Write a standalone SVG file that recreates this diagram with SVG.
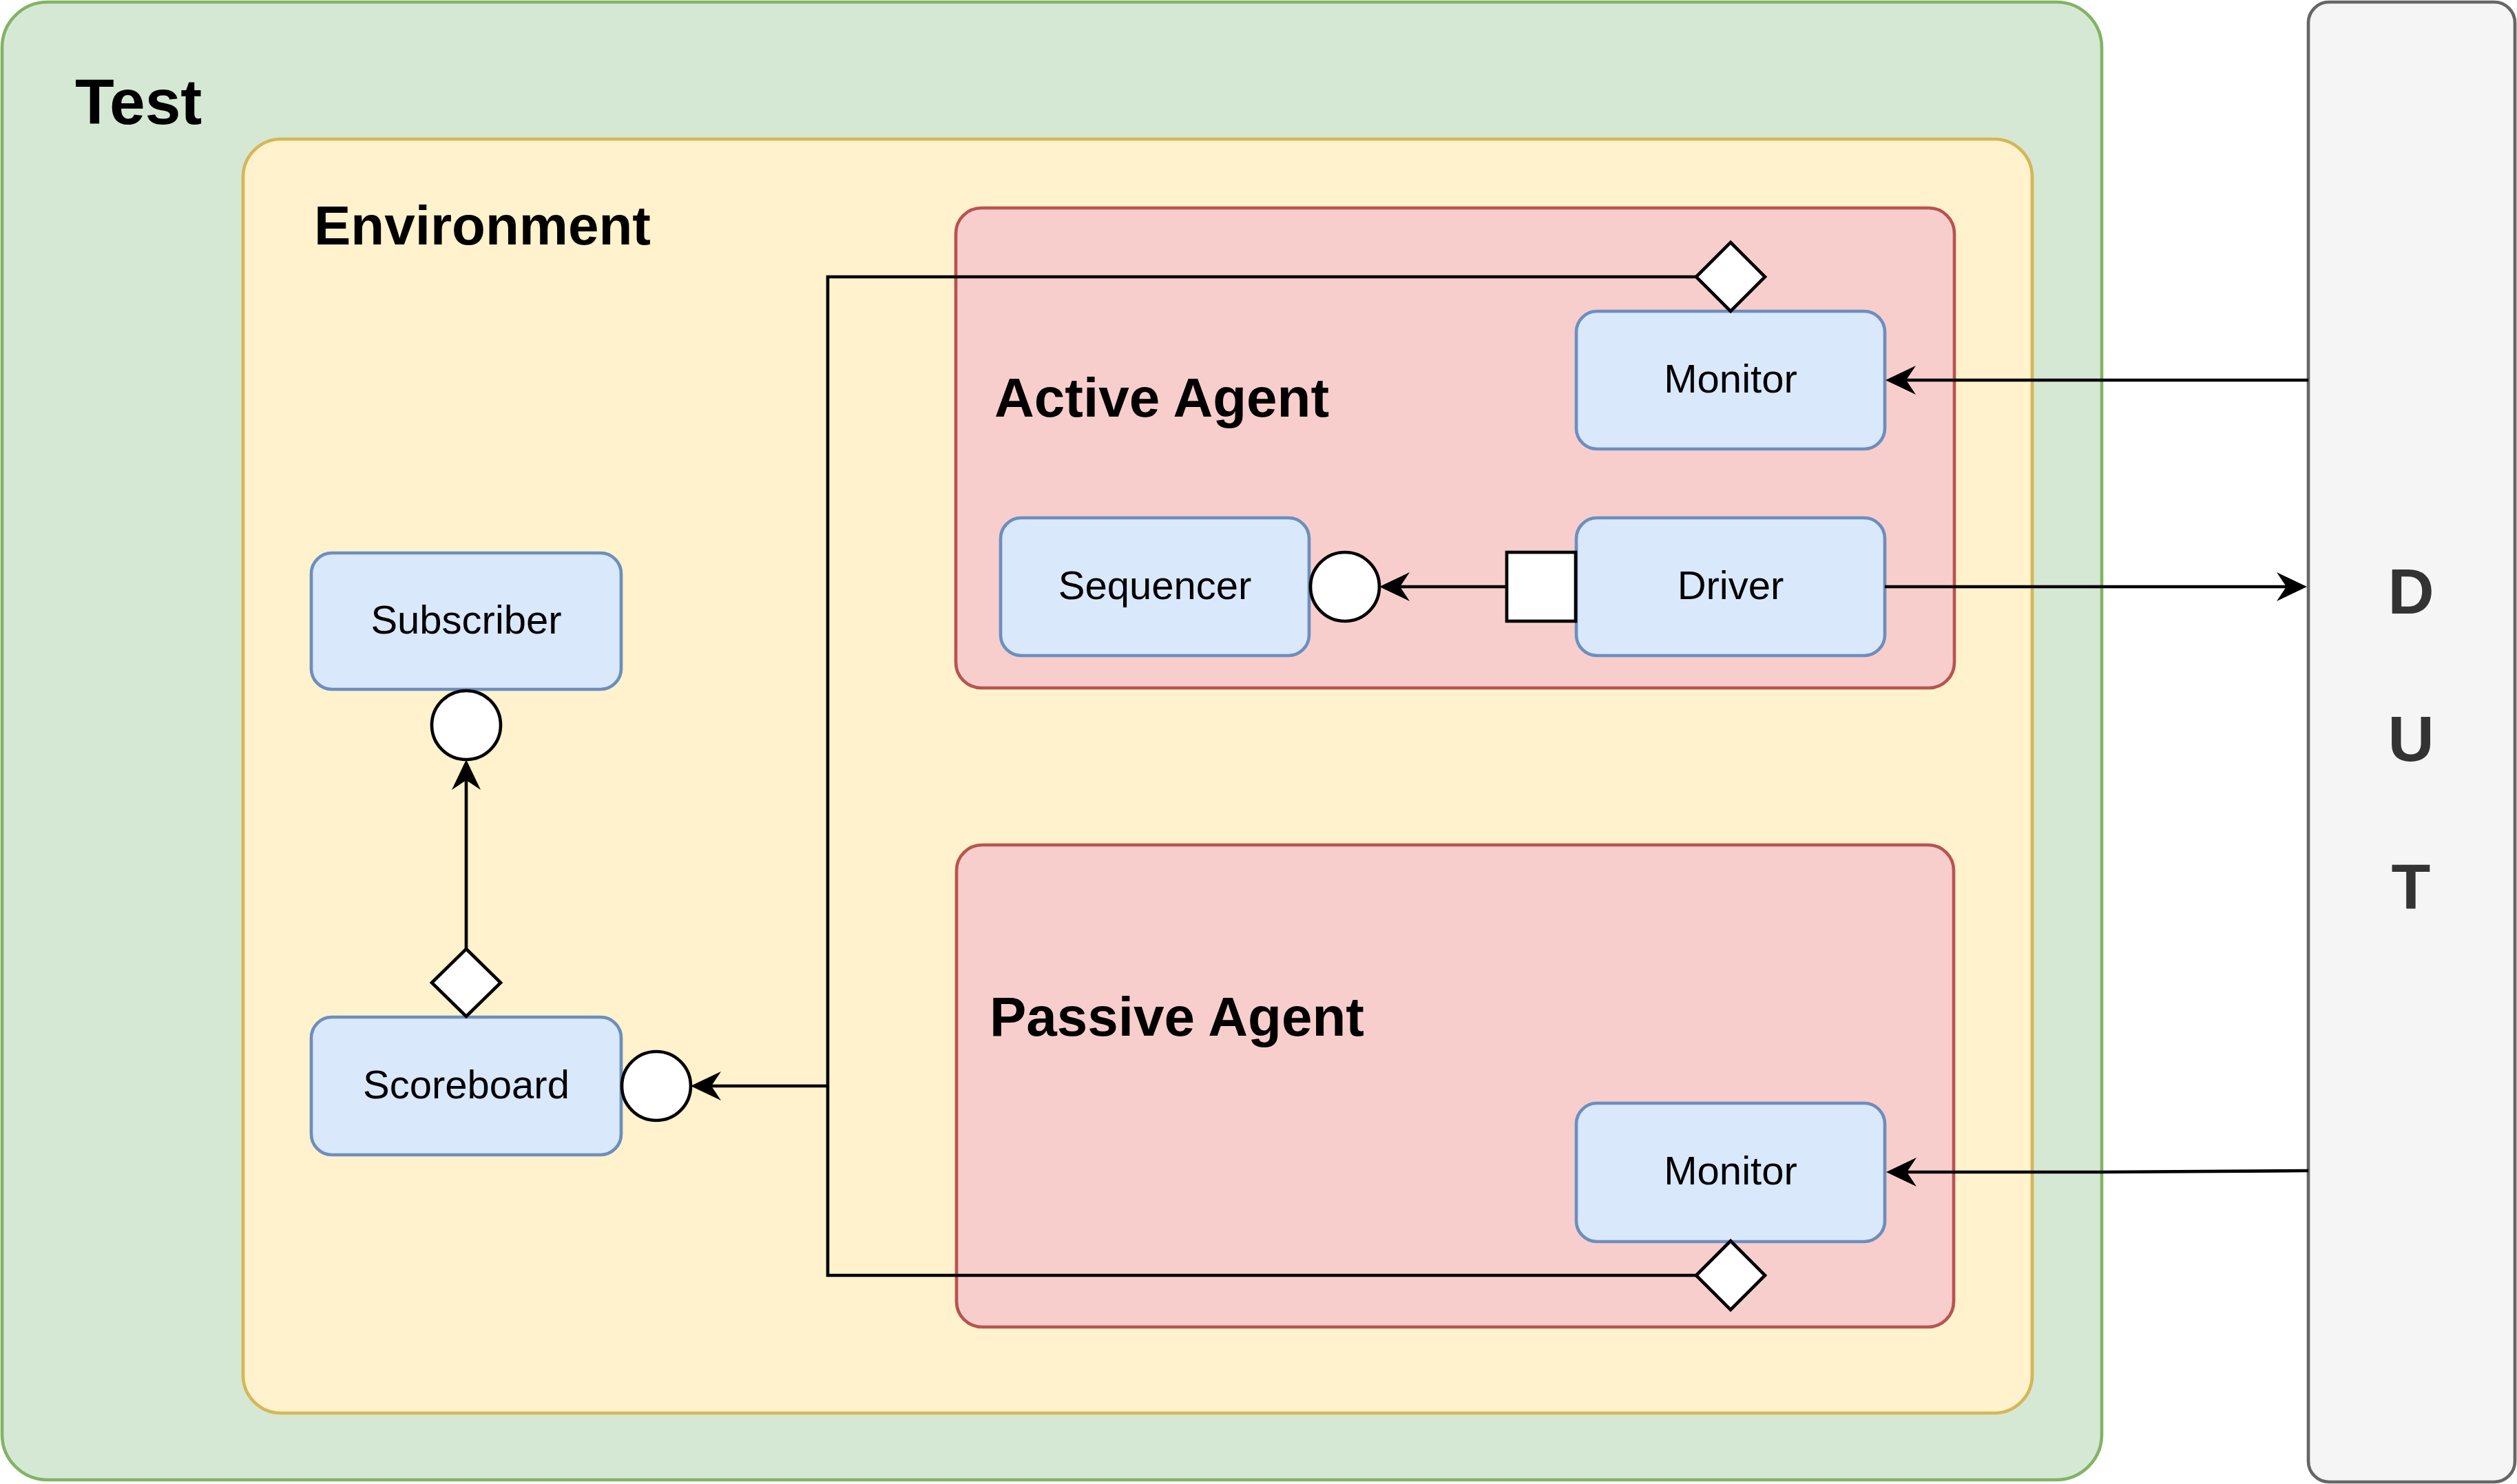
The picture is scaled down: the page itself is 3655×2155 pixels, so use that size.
<svg xmlns="http://www.w3.org/2000/svg" width="3655" height="2155" viewBox="0 0 3655 2155">
  <style>
    .box { stroke-width: 4.66; }
    .test { fill: #d5e8d4; stroke: #82b366; }
    .env { fill: #fff2cc; stroke: #d6b656; }
    .agent { fill: #f8cecc; stroke: #b85450; }
    .comp { fill: #dae8fc; stroke: #6c8ebf; }
    .dut { fill: #f5f5f5; stroke: #666666; }
    .port { fill: #ffffff; stroke: #000000; stroke-width: 4.66; }
    .title { font-family: "Liberation Sans", Arial, sans-serif; font-weight: bold; fill: #000000; }
    .label { font-family: "Liberation Sans", Arial, sans-serif; font-size: 58px; fill: #000000; text-anchor: middle; }
    .dutt { font-family: "Liberation Sans", Arial, sans-serif; font-weight: bold; font-size: 93px; fill: #333333; text-anchor: middle; }
    .wire { fill: none; stroke: #000000; stroke-width: 4.66; }
  </style>
  <defs>
    <marker id="arrow" markerUnits="userSpaceOnUse" viewBox="0 -23 46 46" markerWidth="46" markerHeight="46" refX="14" refY="0" orient="auto">
      <path d="M44,0 L0,-21 L14,0 L0,21 Z" fill="#000000"/>
    </marker>
  </defs>

  <g id="test">
    <rect class="box test" x="3" y="3" width="3049" height="2146" rx="66" ry="66"/>
    <text class="title" x="109" y="180" font-size="93">Test</text>
  </g>

  <g id="environment">
    <rect class="box env" x="353" y="202" width="2598" height="1850" rx="55" ry="55"/>
    <text class="title" x="456" y="355" font-size="80">Environment</text>
  </g>

  <g id="active-agent">
    <rect class="box agent" x="1388" y="302" width="1450" height="697" rx="37" ry="37"/>
    <text class="title" x="1444" y="605" font-size="80">Active Agent</text>
  </g>

  <g id="passive-agent">
    <rect class="box agent" x="1389" y="1227" width="1448" height="700" rx="37" ry="37"/>
    <text class="title" x="1437" y="1504" font-size="80">Passive Agent</text>
  </g>

  <g id="dut">
    <rect class="box dut" x="3352" y="3" width="300" height="2149" rx="30" ry="30"/>
    <text class="dutt" x="3501" y="891">D</text>
    <text class="dutt" x="3501" y="1105">U</text>
    <text class="dutt" x="3501" y="1320">T</text>
  </g>

  <g id="subscriber">
    <rect class="box comp" x="452" y="803" width="450" height="198" rx="30" ry="30"/>
    <text class="label" x="677" y="920">Subscriber</text>
  </g>

  <g id="scoreboard">
    <rect class="box comp" x="452" y="1477" width="450" height="200" rx="30" ry="30"/>
    <text class="label" x="677" y="1595">Scoreboard</text>
  </g>

  <g id="sequencer">
    <rect class="box comp" x="1453" y="752" width="448" height="200" rx="30" ry="30"/>
    <text class="label" x="1677" y="870">Sequencer</text>
  </g>

  <g id="driver">
    <rect class="box comp" x="2289" y="752" width="448" height="200" rx="30" ry="30"/>
    <text class="label" x="2513" y="870">Driver</text>
  </g>

  <g id="monitor-active">
    <rect class="box comp" x="2289" y="452" width="448" height="200" rx="30" ry="30"/>
    <text class="label" x="2513" y="570">Monitor</text>
  </g>

  <g id="monitor-passive">
    <rect class="box comp" x="2289" y="1602" width="448" height="201" rx="30" ry="30"/>
    <text class="label" x="2513" y="1720">Monitor</text>
  </g>

  <g id="connectors">
    <polyline class="wire" points="2463,402 1202,402 1202,1852 2463,1852"/>
    <line class="wire" x1="1202" y1="1577" x2="1033" y2="1577" marker-end="url(#arrow)"/>
    <line class="wire" x1="677" y1="1377" x2="677" y2="1133" marker-end="url(#arrow)"/>
    <line class="wire" x1="2187" y1="852" x2="2033" y2="852" marker-end="url(#arrow)"/>
    <line class="wire" x1="3352" y1="552" x2="2768" y2="552" marker-end="url(#arrow)"/>
    <line class="wire" x1="2737" y1="852" x2="3320" y2="852" marker-end="url(#arrow)"/>
    <polyline class="wire" points="3352,1700 3052,1702 2769,1702" marker-end="url(#arrow)"/>
  </g>

  <g id="ports">
    <path class="port" d="M2513,352 L2563,402 L2513,452 L2463,402 Z"/>
    <path class="port" d="M2513,1802 L2563,1852 L2513,1902 L2463,1852 Z"/>
    <path class="port" d="M677,1378 L727,1427 L677,1476 L627,1427 Z"/>
    <rect class="port" x="2188" y="802" width="100" height="100"/>
    <circle class="port" cx="1953" cy="852" r="50"/>
    <circle class="port" cx="953" cy="1577" r="50"/>
    <circle class="port" cx="677" cy="1053" r="50"/>
  </g>
</svg>
